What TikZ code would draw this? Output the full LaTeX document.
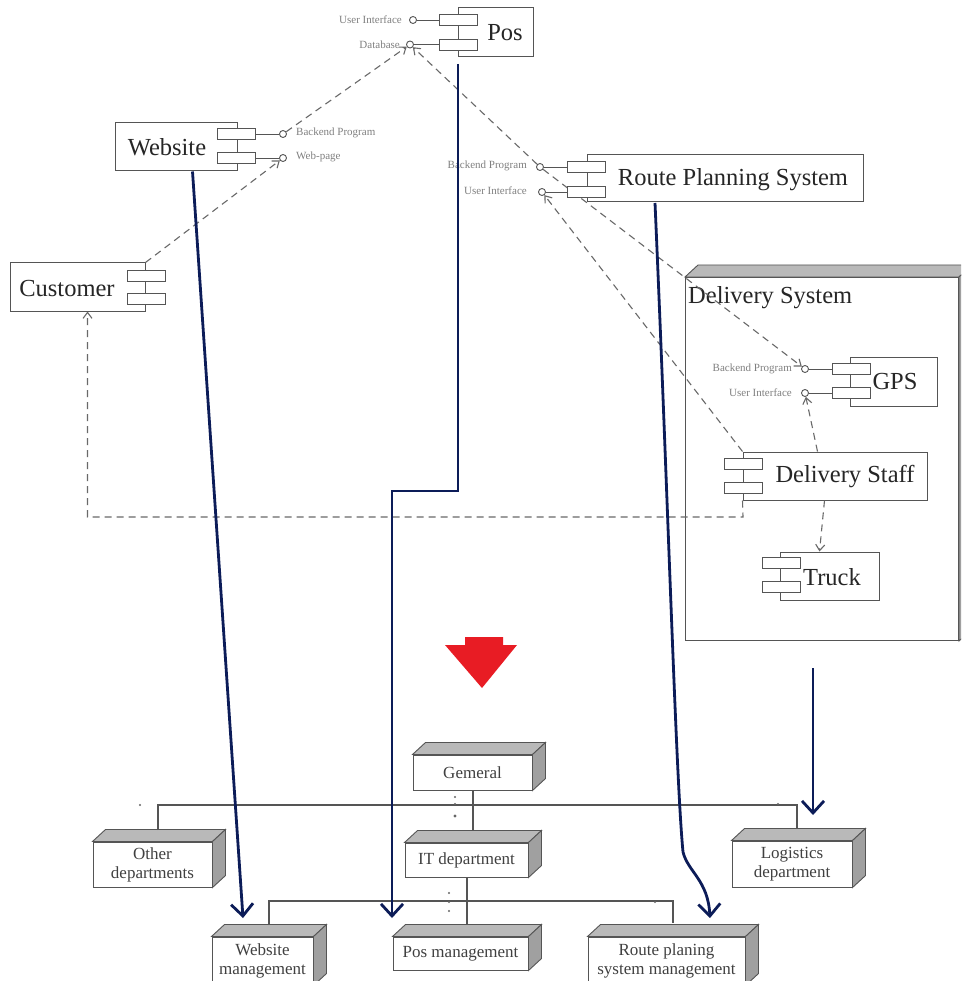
\documentclass[tikz,border=0pt]{standalone}
\usepackage{fontspec}
\setmainfont{Liberation Serif}
\usetikzlibrary{arrows.meta}
\definecolor{linec}{RGB}{85,85,85}
\definecolor{dashc}{RGB}{105,105,105}
\definecolor{navy}{RGB}{12,28,88}
\definecolor{redarrow}{RGB}{232,28,36}
\definecolor{topface}{RGB}{185,185,185}
\definecolor{sideface}{RGB}{160,160,160}

% top and right faces of a 3D box drawn around a node
\newcommand\boxfaces[1]{%
  \filldraw[fill=topface, draw=linec, line width=0.9pt]
    (#1.north west) -- ++(13,-12) -- ([xshift=13pt,yshift=12pt]#1.north east)
    -- (#1.north east) -- cycle;
  \filldraw[fill=sideface, draw=linec, line width=0.9pt]
    (#1.north east) -- ([xshift=13pt,yshift=12pt]#1.north east)
    -- ([xshift=13pt,yshift=12pt]#1.south east) -- (#1.south east) -- cycle;
}

\begin{document}
\begin{tikzpicture}[x=1pt,y=-1pt,
  comp/.style={draw=linec, line width=1pt, fill=white, inner sep=0pt},
  ctitle/.style={font=\fontsize{24.5}{26}\selectfont, text=black!85, inner sep=0pt},
  port/.style={draw=linec, line width=0.9pt, fill=white, minimum width=38pt, minimum height=11pt, inner sep=0pt},
  lolly/.style={circle, draw=linec, line width=0.9pt, fill=white, minimum size=7pt, inner sep=0pt},
  plabel/.style={font=\fontsize{11}{12}\selectfont, text=black!50, inner sep=0pt},
  stem/.style={draw=linec, line width=0.9pt},
  dep/.style={draw=dashc, line width=1.1pt, dash pattern=on 7pt off 5pt},
  deptip/.style={-{Straight Barb[length=6pt,width=9pt]}},
  flow/.style={draw=navy, line width=2.8pt, -{Straight Barb[length=12pt,width=22pt]}},
  orgbox/.style={draw=linec, line width=1pt, fill=white, align=center, inner sep=0pt, font=\fontsize{17}{19}\selectfont, text=black!75},
  orgline/.style={draw=linec, line width=1.1pt},
  multdot/.style={circle, fill=black!60, inner sep=0pt, minimum size=2.4pt}
]
\clip (0,0) rectangle (961,981);
\fill[white] (0,0) rectangle (961,981);

% ---------- Delivery System package ----------
\node[comp, anchor=north west, minimum width=273pt, minimum height=363pt] (dsys) at (685,277) {};
\boxfaces{dsys}
\node[ctitle, anchor=west] (dsys-t) at (688,298) {Delivery System};

% ---------- port circles (needed by the dependencies) ----------
\node[lolly] (pos-ui) at (413,20) {};
\node[lolly] (pos-db) at (410,44.5) {};
\node[lolly] (web-bp) at (283,134) {};
\node[lolly] (web-wp) at (283,158) {};
\node[lolly] (rps-bp) at (540,167) {};
\node[lolly] (rps-ui) at (542,192) {};
\node[lolly] (gps-bp) at (805,369) {};
\node[lolly] (gps-ui) at (805,393) {};

% ---------- component boxes ----------
\node[comp, minimum width=75pt, minimum height=49pt] (pos) at (495.5,32.5) {};
\node[comp, minimum width=122pt, minimum height=48pt] (web) at (176,147) {};
\node[comp, minimum width=276pt, minimum height=47pt] (rps) at (725,178.5) {};
\node[comp, minimum width=135pt, minimum height=48pt] (cust) at (77.5,287) {};
\node[comp, minimum width=87pt, minimum height=49pt] (gps) at (893.5,381.5) {};
\node[comp, minimum width=184pt, minimum height=48pt] (staff) at (835,476) {};
\node[comp, minimum width=99pt, minimum height=48pt] (truck) at (829.5,576) {};

% ---------- dependencies ----------
\draw[dep, deptip] (web-bp) -- (pos-db);
\draw[dep, deptip] (rps-bp) -- (pos-db);
\draw[dep, deptip] (rps-bp) -- (gps-bp);
\draw[dep, deptip] (staff.north west) -- (rps-ui);
\draw[dep, deptip] ([xshift=75pt]staff.north west) -- (gps-ui);
\draw[dep, deptip] ([xshift=82pt]staff.south west) -- ([xshift=40pt]truck.north west);
\draw[dep, deptip] (cust.north east) -- (web-wp);
\coordinate (staff-bend) at (743,517);
\draw[dep, deptip] (staff.south west) -- (staff-bend) -| ([xshift=78pt]cust.south west);

% ---------- component titles ----------
\node[ctitle] (pos-t) at (505,33) {Pos};
\node[ctitle] (web-t) at (167,147) {Website};
\node[ctitle] (rps-t) at (733,180) {Route Planning System};
\node[ctitle] (cust-t) at (67,289) {Customer};
\node[ctitle] (gps-t) at (895,382) {GPS};
\node[ctitle] (staff-t) at (845,477) {Delivery Staff};
\node[ctitle] (truck-t) at (832,577) {Truck};

% ---------- component ports ----------
\node[port] (pos-p1) at (458,20) {};
\node[port] (pos-p2) at (458,44.5) {};
\node[port] (web-p1) at (236,134) {};
\node[port] (web-p2) at (236,158) {};
\node[port] (rps-p1) at (586,167) {};
\node[port] (rps-p2) at (586,192) {};
\node[port] (cust-p1) at (146,275.5) {};
\node[port] (cust-p2) at (146,298.5) {};
\node[port] (gps-p1) at (851,369) {};
\node[port] (gps-p2) at (851,393) {};
\node[port] (staff-p1) at (743,464) {};
\node[port] (staff-p2) at (743,487.5) {};
\node[port] (truck-p1) at (781,563) {};
\node[port] (truck-p2) at (781,587) {};

% interface stems
\draw[stem] (pos-ui) -- (pos-p1);
\draw[stem] (pos-db) -- (pos-p2);
\draw[stem] (web-bp) -- (web-p1);
\draw[stem] (web-wp) -- (web-p2);
\draw[stem] (rps-bp) -- (rps-p1);
\draw[stem] (rps-ui) -- (rps-p2);
\draw[stem] (gps-bp) -- (gps-p1);
\draw[stem] (gps-ui) -- (gps-p2);

% interface labels
\node[plabel, anchor=east] (pos-ui-l) at (402,20) {User Interface};
\node[plabel, anchor=east] (pos-db-l) at (400,44.5) {Database};
\node[plabel, anchor=west] (web-bp-l) at (296,133) {Backend Program};
\node[plabel, anchor=west] (web-wp-l) at (296,157) {Web-page};
\node[plabel, anchor=east] (rps-bp-l) at (527,166) {Backend Program};
\node[plabel, anchor=east] (rps-ui-l) at (527,191) {User Interface};
\node[plabel, anchor=east] (gps-bp-l) at (792,369) {Backend Program};
\node[plabel, anchor=east] (gps-ui-l) at (792,393) {User Interface};

% ---------- big red arrow ----------
\fill[redarrow] (465,637) -- (503,637) -- (503,645) -- (517,645) -- (482,688)
  -- (445,645) -- (465,645) -- cycle;

% ---------- organisation units ----------
\node[orgbox, minimum width=119pt, minimum height=35pt] (general) at (472.5,772.5) {Gemeral};
\boxfaces{general}
\node[orgbox, minimum width=119pt, minimum height=45pt] (otherdep) at (152.5,864.5) {Other\\departments};
\boxfaces{otherdep}
\node[orgbox, minimum width=123pt, minimum height=34pt] (itdep) at (466.5,860) {IT department};
\boxfaces{itdep}
\node[orgbox, minimum width=120pt, minimum height=46pt] (logdep) at (792,864) {Logistics\\department};
\boxfaces{logdep}
\node[orgbox, minimum width=101pt, minimum height=48pt] (webman) at (262.5,961) {Website\\management};
\boxfaces{webman}
\node[orgbox, minimum width=135pt, minimum height=33pt] (posman) at (460.5,953.5) {Pos management};
\boxfaces{posman}
\node[orgbox, minimum width=157pt, minimum height=48pt] (rpsman) at (666.5,961) {Route planing\\system management};
\boxfaces{rpsman}

% attachment points on the box tops and bus corners
\coordinate (it-top) at (473,831);
\coordinate (od-top) at (158,830);
\coordinate (lg-top) at (797,829);
\coordinate (bus1-l) at (158,805);
\coordinate (bus1-r) at (797,805);
\coordinate (wm-top) at (269,925);
\coordinate (pm-top) at (467,925);
\coordinate (rm-top) at (673,923);
\coordinate (bus2-l) at (269,901);
\coordinate (bus2-r) at (673,901);

\draw[orgline] (general.south -| it-top) -- (it-top);
\draw[orgline] (od-top) -- (bus1-l) -- (bus1-r) -- (lg-top);
\draw[orgline] (itdep.south -| pm-top) -- (pm-top);
\draw[orgline] (wm-top) -- (bus2-l) -- (bus2-r) -- (rm-top);

% multiplicity marks
\node[multdot] (m1) at (140,805) {};
\node[multdot] (m2) at (455,797) {};
\node[multdot] (m3) at (455,804) {};
\node[multdot, minimum size=3.4pt] (m4) at (455,816) {};
\node[multdot] (m5) at (778,804) {};
\node[multdot] (m6) at (449,893) {};
\node[multdot] (m7) at (449,902) {};
\node[multdot] (m8) at (449,911) {};
\node[multdot] (m9) at (655,902) {};

% ---------- mapping from systems to units ----------
\coordinate (wm-tip) at (243,918);
\coordinate (pm-tip) at (392,918);
\coordinate (rm-tip) at (710,918);
\coordinate (lg-tip) at (813,815);
\coordinate (pos-out) at (458,64);
\coordinate (pos-b1) at (458,491);
\coordinate (pos-b2) at (392,491);
\coordinate (rps-out) at (655,203);
\coordinate (rps-mid) at (683,852);
\coordinate (dsys-out) at (813,668);

\draw[flow] ([xshift=78pt]web.south west) -- (wm-tip);
\draw[flow] (pos-out) -- (pos-b1) -- (pos-b2) -- (pm-tip);
\draw[flow] (rps-out) .. controls (668,500) and (676,780) .. (rps-mid)
  .. controls (688,872) and (708,880) .. (rm-tip);
\draw[flow] (dsys-out) -- (lg-tip);

\end{tikzpicture}
\end{document}
